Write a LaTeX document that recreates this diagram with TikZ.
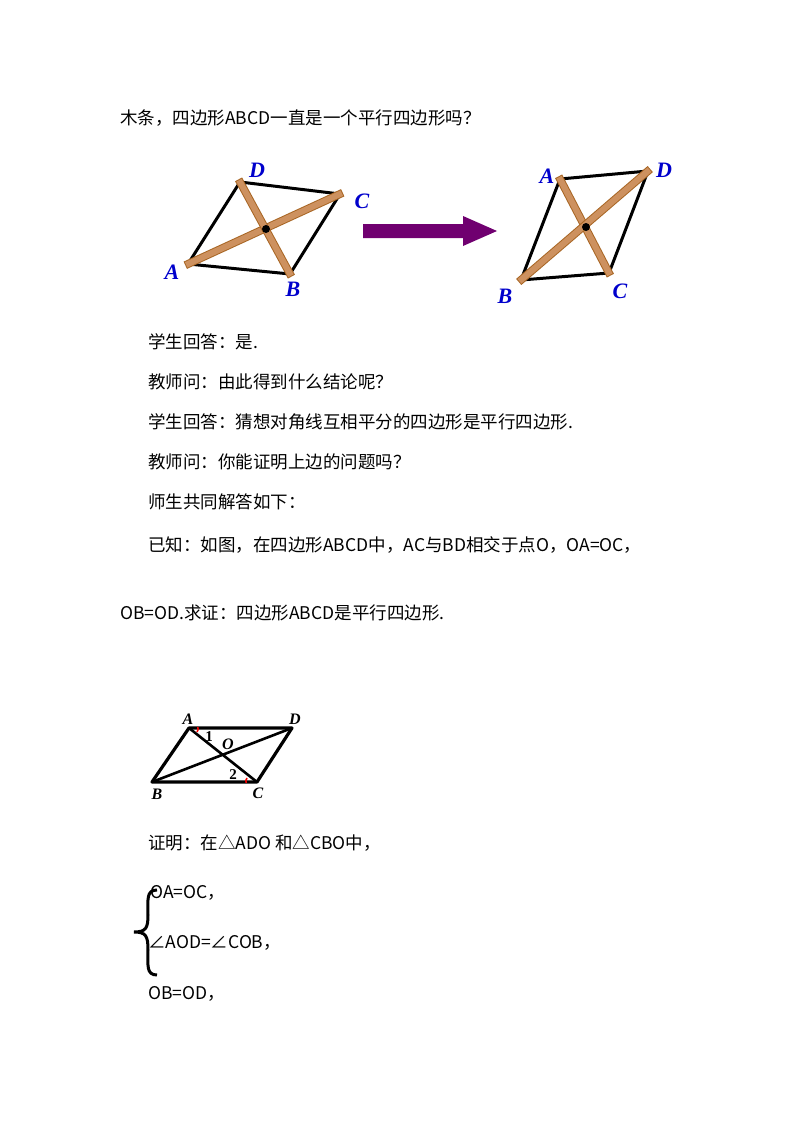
\documentclass[tikz,border=0pt]{standalone}
\usepackage{fontspec}
\usetikzlibrary{calc}
\setmainfont{Noto Sans CJK SC}
\newfontfamily\lab{Liberation Serif}
\begin{document}
\begin{tikzpicture}[x=1pt,y=-1pt,
 txt/.style={anchor=west,inner sep=0pt,font=\fontsize{17.5}{17.5}\selectfont},
 bl/.style={text=blue!80!black,font=\lab\bfseries\itshape\fontsize{22}{22}\selectfont,inner sep=0},
 lb/.style={font=\lab\bfseries\itshape\fontsize{16}{16}\selectfont,inner sep=0},
 wood/.style={line width=8pt,draw=brown!70!orange!80!black,fill=none},
 woodin/.style={line width=6pt,draw={rgb,255:red,205;green,145;blue,95}},
 edge/.style={line width=3pt,black,line join=round}]
\useasboundingbox (0,0) rectangle (800,1132);
\node[txt] (t0) at (120,118) {木条，四边形ABCD一直是一个平行四边形吗？};
\node[txt] (t1) at (148,342) {学生回答：是.};
\node[txt] (t2) at (148,382) {教师问：由此得到什么结论呢？};
\node[txt] (t3) at (148,422) {学生回答：猜想对角线互相平分的四边形是平行四边形.};
\node[txt] (t4) at (148,462) {教师问：你能证明上边的问题吗？};
\node[txt] (t5) at (148,502) {师生共同解答如下：};
\node[txt] (t6) at (148,545) {已知：如图，在四边形ABCD中，AC与BD相交于点O，OA=OC，};
\node[txt] (t7) at (120,613) {OB=OD.求证：四边形ABCD是平行四边形.};
\node[txt] (t8) at (148,843) {证明：在△ADO 和△CBO中，};
\node[txt] (t9) at (150,893) {OA=OC，};
\node[txt] (t10) at (148,943) {∠AOD=∠COB，};
\node[txt] (t11) at (148,994) {OB=OD，};
\draw[line width=3pt] (157,890) .. controls (146,890) and (148,900) .. (148,915) .. controls (148,928) and (146,932) .. (134,932) .. controls (146,932) and (148,936) .. (148,950) .. controls (148,965) and (146,975) .. (157,975);
% left figure
\coordinate (A1) at (188,264); \coordinate (B1) at (290,274);
\coordinate (C1) at (340,194); \coordinate (D1) at (240,182);
\coordinate (O1) at (266,229);
\draw[edge] (A1)--(B1)--(C1)--(D1)--cycle;
\foreach \p/\q in {A1/C1,D1/B1}{
 \draw[wood] ($(\p)!-3pt!(\q)$)--($(\q)!-3pt!(\p)$);
 \draw[woodin] ($(\p)!-2pt!(\q)$)--($(\q)!-2pt!(\p)$);}
\fill (O1) circle (4);
\node[bl] (la1) at (172,272) {A}; \node[bl] (lb1) at (293,289) {B};
\node[bl] (lc1) at (362,201) {C}; \node[bl] (ld1) at (257,170) {D};
% arrow
\fill[fill={rgb,255:red,112;green,0;blue,112}] (363,224) -- (463,224) -- (463,216) -- (497,231) -- (463,246) -- (463,238) -- (363,238) -- cycle;
% right figure
\coordinate (A2) at (560,179); \coordinate (D2) at (648,171);
\coordinate (B2) at (521,280); \coordinate (C2) at (609,273);
\coordinate (O2) at (586,227);
\draw[edge] (A2)--(D2)--(C2)--(B2)--cycle;
\foreach \p/\q in {A2/C2,B2/D2}{
 \draw[wood] ($(\p)!-3pt!(\q)$)--($(\q)!-3pt!(\p)$);
 \draw[woodin] ($(\p)!-2pt!(\q)$)--($(\q)!-2pt!(\p)$);}
\fill (O2) circle (4);
\node[bl] (la2) at (547,176) {A}; \node[bl] (lb2) at (505,296) {B};
\node[bl] (lc2) at (620,291) {C}; \node[bl] (ld2) at (664,170) {D};
% proof figure
\coordinate (A3) at (189,728); \coordinate (D3) at (292,728);
\coordinate (B3) at (152,782); \coordinate (C3) at (257,782);
\draw[line width=3.2pt,line join=round] (A3)--(D3)--(C3)--(B3)--cycle;
\draw[line width=2.6pt] (A3)--(C3) (B3)--(D3);
\draw[red,line width=1.5pt] ($(A3)+(8,4)$) arc[start angle=40,end angle=-20,radius=5];
\draw[red,line width=1.5pt] ($(C3)+(-10,-4)$) arc[start angle=220,end angle=160,radius=5];
\node[lb] (la3) at (188,719) {A}; \node[lb] (ld3) at (295,719) {D};
\node[lb] (lb3) at (157,794) {B}; \node[lb] (lc3) at (258,793) {C};
\node[lb] (lo3) at (228,744) {O};
\node[font=\lab\bfseries\fontsize{15}{15}\selectfont,inner sep=0] (n1) at (209,737) {1};
\node[font=\lab\bfseries\fontsize{15}{15}\selectfont,inner sep=0] (n2) at (233,775) {2};
\end{tikzpicture}
\end{document}
